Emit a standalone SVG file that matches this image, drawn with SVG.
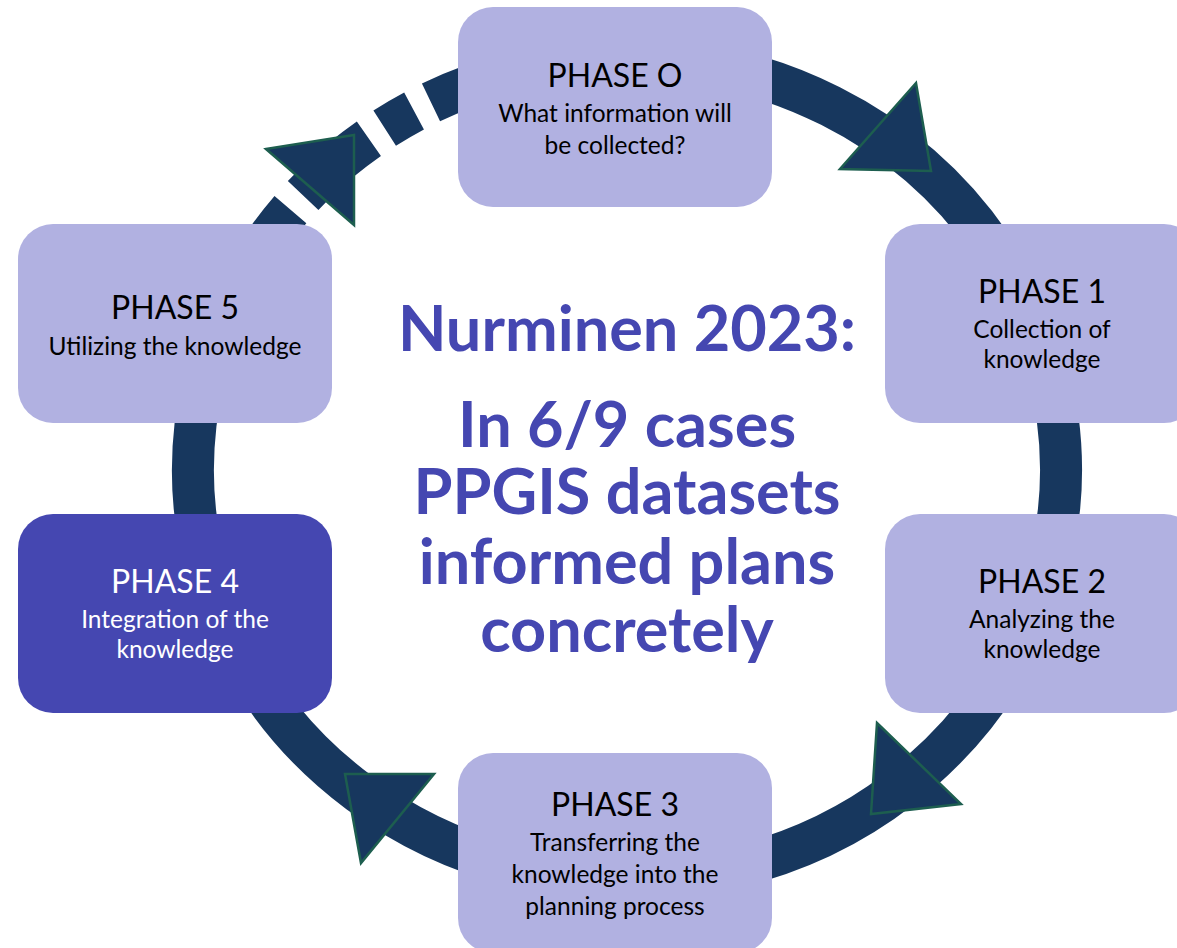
<svg xmlns="http://www.w3.org/2000/svg" width="1177" height="948" viewBox="0 0 1177 948">
<style>
.ring{fill:none;stroke:#17375e;stroke-width:42}
.dash{stroke-dasharray:34 19;stroke-dashoffset:34}
.arrow{fill:#17375e;stroke:#1d5e4f;stroke-width:2.5;stroke-linejoin:miter}
.box{fill:#b1b1e1}
.box.dark{fill:#4547b1}
.h{font-family:Lato,"Liberation Sans",sans-serif;font-size:32px;text-anchor:middle;fill:#000}
.s{font-family:Lato,"Liberation Sans",sans-serif;font-size:24.5px;text-anchor:middle;fill:#000}
.w{fill:#fff}
.t{font-family:Lato,"Liberation Sans",sans-serif;font-weight:700;font-size:63px;text-anchor:middle;fill:#4547b1}
</style>
<rect width="1177" height="948" fill="#fff"/>
<g id="connectors">
<path class="ring" d="M 431 102.4 A 434 411 0 1 1 259 251.2"/>
<path class="ring dash" d="M 431 102.4 A 434 411 0 0 0 259 251.2"/>
<polygon class="arrow" points="266,149 354,135 354,225"/>
<polygon class="arrow" points="916,83 840,169 931,171"/>
<polygon class="arrow" points="877,723 961,804 871,814"/>
<polygon class="arrow" points="345,774 434,774 361,863"/>
</g>
<g id="phase0">
<rect class="box" x="458" y="7" width="314" height="200" rx="35"/>
<text class="h" x="615" y="87">PHASE O</text>
<text class="s" x="615" y="122">What information will</text>
<text class="s" x="615" y="154">be collected?</text>
</g>
<g id="phase1">
<rect class="box" x="885" y="224" width="314" height="199" rx="35"/>
<text class="h" x="1042" y="303">PHASE 1</text>
<text class="s" x="1042" y="338">Collection of</text>
<text class="s" x="1042" y="368">knowledge</text>
</g>
<g id="phase2">
<rect class="box" x="885" y="514" width="314" height="199" rx="35"/>
<text class="h" x="1042" y="593">PHASE 2</text>
<text class="s" x="1042" y="628">Analyzing the</text>
<text class="s" x="1042" y="658">knowledge</text>
</g>
<g id="phase3">
<rect class="box" x="458" y="753" width="314" height="200" rx="35"/>
<text class="h" x="615" y="816">PHASE 3</text>
<text class="s" x="615" y="851">Transferring the</text>
<text class="s" x="615" y="883">knowledge into the</text>
<text class="s" x="615" y="915">planning process</text>
</g>
<g id="phase4">
<rect class="box dark" x="18" y="514" width="314" height="199" rx="35"/>
<text class="h w" x="175" y="593">PHASE 4</text>
<text class="s w" x="175" y="628">Integration of the</text>
<text class="s w" x="175" y="658">knowledge</text>
</g>
<g id="phase5">
<rect class="box" x="18" y="224" width="314" height="199" rx="35"/>
<text class="h" x="175" y="319">PHASE 5</text>
<text class="s" x="175" y="355">Utilizing the knowledge</text>
</g>
<g id="title">
<text class="t" x="627" y="351">Nurminen 2023:</text>
<text class="t"><tspan x="627" y="447">In 6/9 cases</tspan><tspan x="627" y="514">PPGIS datasets</tspan><tspan x="627" y="584">informed plans</tspan><tspan x="627" y="652">concretely</tspan></text>
</g>
</svg>
